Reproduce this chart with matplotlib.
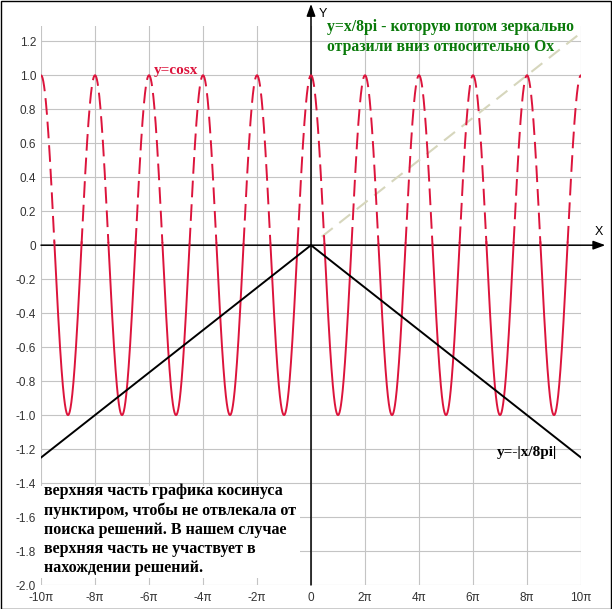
"""
cos x vs -|x/8pi| — recreated graph
"""
import numpy as np
import matplotlib
matplotlib.use('Agg')
import matplotlib.pyplot as plt
from matplotlib.patches import Rectangle

PI = np.pi

# ── data ────────────────────────────────────────────────────────────────────
x_range = (-10 * PI, 10 * PI)
cos_x = np.linspace(x_range[0], x_range[1], 4000)
cos_y = np.cos(cos_x)                       # y = cos x

abs_line_x = [-10 * PI, 0, 10 * PI]         # y = -|x/8pi|
abs_line_y = [-1.25, 0.0, -1.25]

ref_line_x = [0.4 * PI, 10 * PI]            # y = x/8pi (x > 0)
ref_line_y = [0.05, 1.25]

xtick_mult = [-10, -8, -6, -4, -2, 0, 2, 4, 6, 8, 10]
xtick_labels = ["-10π", "-8π", "-6π", "-4π", "-2π", "0", "2π", "4π", "6π", "8π", "10π"]
ytick_vals = [-2.0, -1.8, -1.6, -1.4, -1.2, -1.0, -0.8, -0.6, -0.4, -0.2,
              0.0, 0.2, 0.4, 0.6, 0.8, 1.0, 1.2]
ytick_labels = ["-2.0", "-1.8", "-1.6", "-1.4", "-1.2", "-1.0", "-0.8", "-0.6",
                "-0.4", "-0.2", "0", "0.2", "0.4", "0.6", "0.8", "1.0", "1.2"]

RED = "#dc143c"
GREEN = "#0a7a0a"
BEIGE = "#d6d6bc"
GRID = "#c4c4c4"

plt.rcParams['lines.scale_dashes'] = False

W, H = 612, 609
fig = plt.figure(figsize=(W / 100, H / 100), dpi=100)
ax = fig.add_axes([41 / W, 24 / H, 540 / W, 559 / H])
ax.set_xlim(*x_range)
ax.set_ylim(-2.0, 1.29)
for s in ax.spines.values():
    s.set_visible(False)

ax.set_xticks([m * PI for m in xtick_mult])
ax.set_xticklabels(xtick_labels)
ax.set_yticks(ytick_vals)
ax.set_yticklabels(ytick_labels)
ax.tick_params(length=0, labelsize=8.5, colors="#333333")
ax.tick_params(axis='x', pad=5)
ax.tick_params(axis='y', pad=3.5)
for lab in ax.get_xticklabels() + ax.get_yticklabels():
    lab.set_family("Liberation Sans")
ax.grid(True, color=GRID, linewidth=0.8)
ax.set_axisbelow(True)

# axes with arrows
arrow = dict(arrowstyle="-|>,head_length=0.6,head_width=0.22", color="black",
             lw=1.1, mutation_scale=12, shrinkA=0, shrinkB=0)
ax.annotate("", xy=(10.9 * PI, 0), xytext=(-10 * PI, 0), arrowprops=arrow,
            annotation_clip=False, zorder=3)
ax.annotate("", xy=(0, 1.42), xytext=(0, -2.0), arrowprops=arrow,
            annotation_clip=False, zorder=3)
ax.text(10.65 * PI, 0.045, "X", fontsize=9, family="Liberation Sans",
        ha="center", va="bottom", clip_on=False)
ax.text(0.45 * PI, 1.36, "Y", fontsize=9, family="Liberation Sans",
        ha="center", va="center", clip_on=False)

# y = x/8pi dashed beige
ax.plot(ref_line_x, ref_line_y, color=BEIGE, lw=1.5, dashes=(10, 6), zorder=2)

# cosine: solid below Ox, dashed above
y_low = np.where(cos_y <= 0.02, cos_y, np.nan)
y_high = np.where(cos_y >= 0.0, cos_y, np.nan)
ax.plot(cos_x, y_low, color=RED, lw=1.4, zorder=4)
ax.plot(cos_x, y_high, color=RED, lw=1.4, dashes=(12, 5), zorder=4)

# y = -|x/8pi|
ax.plot(abs_line_x, abs_line_y, color="black", lw=1.4, zorder=5)

# labels
serif = "Liberation Serif"
ax.text(-5.0 * PI, 1.03, "y=cosx", color=RED, fontsize=11, family=serif,
        fontweight="bold", ha="center", va="center", zorder=6)
ax.text(0.6 * PI, 1.33, "y=x/8pi - которую потом зеркально\nотразили вниз относительно Ох",
        color=GREEN, fontsize=11.3, family=serif, fontweight="bold",
        ha="left", va="top", linespacing=1.3, zorder=6, clip_on=False)
ax.text(6.9 * PI, -1.22, "y=-|x/8pi|", color="black", fontsize=11, family=serif,
        fontweight="bold", ha="left", va="center", zorder=6)

# note box over lower-left grid
ax.add_patch(Rectangle((-10 * PI, -1.96), 9.6 * PI, 0.54, facecolor="white",
                       edgecolor="none", zorder=1.5))
ax.text(-9.9 * PI, -1.40,
        "верхняя часть графика косинуса\nпунктиром, чтобы не отвлекала от\n"
        "поиска решений. В нашем случае\nверхняя часть не участвует в\n"
        "нахождении решений.",
        color="black", fontsize=11.5, family=serif, fontweight="bold",
        ha="left", va="top", linespacing=1.25, zorder=6)

# outer frame
fig.add_artist(Rectangle((0.5 / W, 0.5 / H), 1 - 1.5 / W, 1 - 1.5 / H,
                         transform=fig.transFigure, fill=False,
                         edgecolor="black", lw=1))

fig.savefig("out.png", dpi=100)
